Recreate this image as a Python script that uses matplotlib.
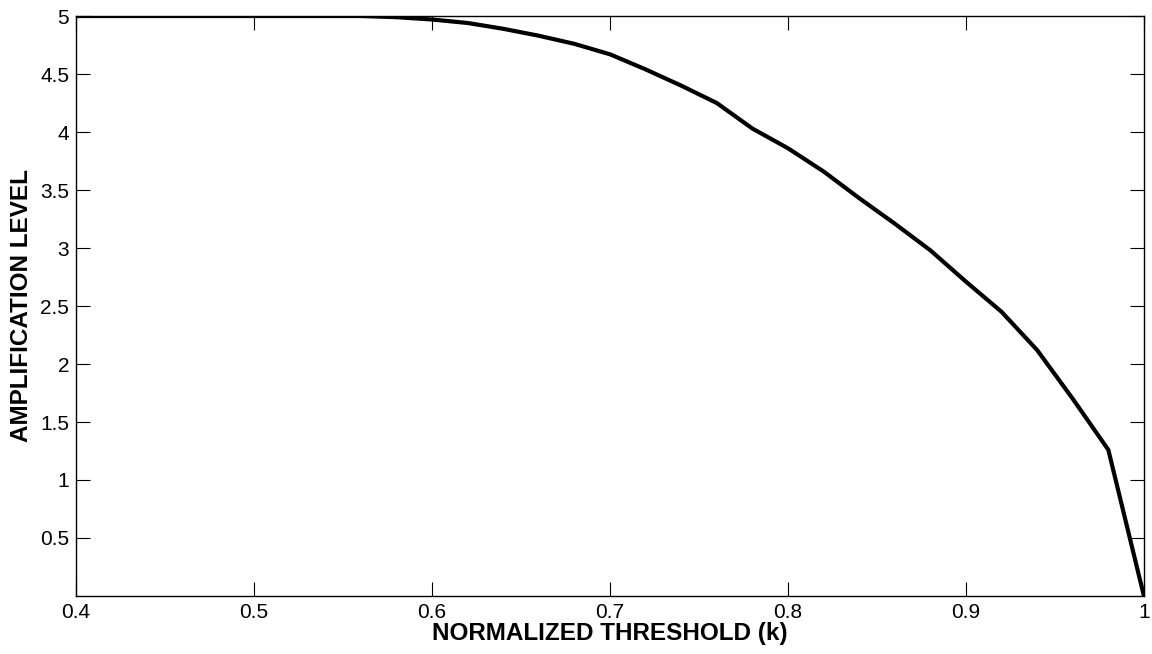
import numpy as np
import matplotlib.pyplot as plt
from matplotlib.ticker import FormatStrFormatter

plt.rcParams['font.family'] = ['Liberation Sans', 'DejaVu Sans']

# normalized threshold k and the amplification level
k = [0.40, 0.42, 0.44, 0.46, 0.48, 0.50, 0.52, 0.54, 0.56, 0.58,
     0.60, 0.62, 0.64, 0.66, 0.68, 0.70, 0.72, 0.74, 0.76, 0.78,
     0.80, 0.82, 0.84, 0.86, 0.88, 0.90, 0.92, 0.94, 0.96, 0.98, 1.00]
amp = [5.0, 5.0, 5.0, 5.0, 5.0, 5.0, 5.0, 5.0, 5.0, 4.99,
       4.97, 4.94, 4.89, 4.83, 4.76, 4.67, 4.54, 4.40, 4.25, 4.03,
       3.86, 3.66, 3.43, 3.21, 2.98, 2.71, 2.45, 2.12, 1.70, 1.26, 0.0]

xticks = [0.4, 0.5, 0.6, 0.7, 0.8, 0.9, 1.0]
yticks = [0.5, 1, 1.5, 2, 2.5, 3, 3.5, 4, 4.5, 5]

fig = plt.figure(figsize=(11.52, 6.54), dpi=100)
ax = fig.add_axes([0.066, 0.0887, 0.927, 0.8868])

ax.plot(k, amp, color='black', linewidth=3.0)

ax.set_xlim(0.4, 1.0)
ax.set_ylim(0, 5)
ax.set_xticks(xticks)
ax.set_yticks(yticks)
ax.xaxis.set_major_formatter(FormatStrFormatter('%g'))
ax.yaxis.set_major_formatter(FormatStrFormatter('%g'))
ax.tick_params(direction='in', length=10, width=0.8, top=True, right=True,
               labelsize=15, pad=5)
for s in ax.spines.values():
    s.set_linewidth(1.0)

ax.set_xlabel('NORMALIZED THRESHOLD (k)', fontsize=17.5, fontweight='bold', labelpad=0)
ax.set_ylabel('AMPLIFICATION LEVEL', fontsize=17.5, fontweight='bold', labelpad=5)

fig.savefig('out.png', dpi=100)
